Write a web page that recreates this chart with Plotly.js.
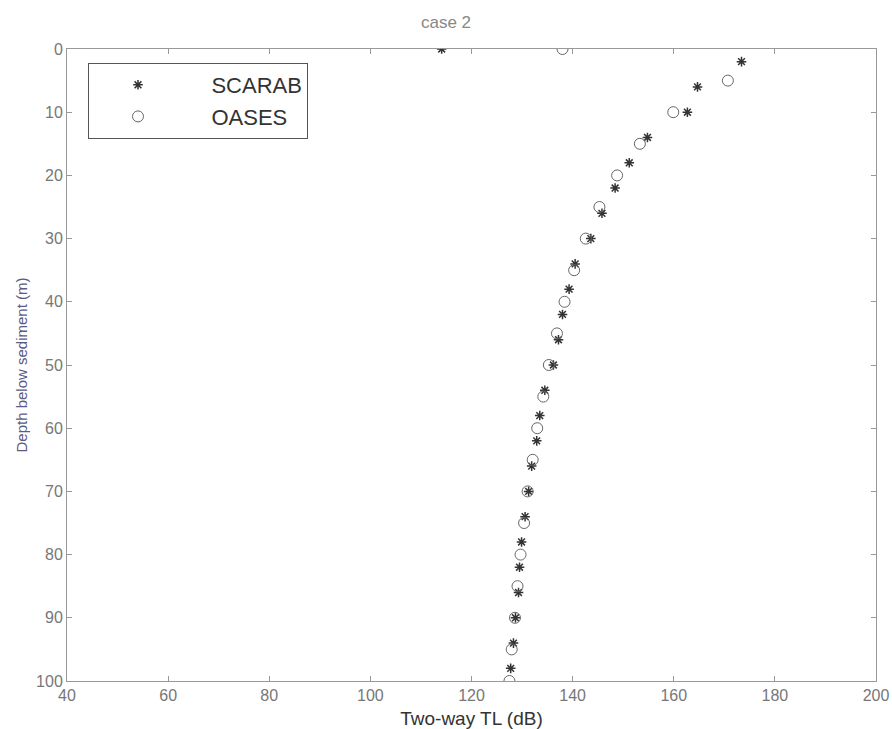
<!DOCTYPE html>
<html>
<head>
<meta charset="utf-8">
<script src="https://cdn.plot.ly/plotly-3.0.1.min.js"></script>
<style>html,body{margin:0;padding:0;background:#fff;}#chart{width:892px;height:729px;}</style>
</head>
<body>
<div id="chart"></div>
<script>
const scarabDepth = [0, 2, 6, 10, 14, 18, 22, 26, 30, 34, 38, 42, 46, 50, 54, 58, 62, 66, 70, 74, 78, 82, 86, 90, 94, 98];
const scarabTL = [114.1, 173.4, 164.7, 162.7, 154.8, 151.2, 148.4, 145.8, 143.6, 140.5, 139.3, 138.0, 137.2, 136.2, 134.5, 133.5, 132.9, 131.9, 131.3, 130.6, 129.9, 129.5, 129.3, 128.7, 128.3, 127.75];
const oasesDepth = [0, 5, 10, 15, 20, 25, 30, 35, 40, 45, 50, 55, 60, 65, 70, 75, 80, 85, 90, 95, 100];
const oasesTL = [138.0, 170.7, 159.9, 153.3, 148.8, 145.3, 142.6, 140.3, 138.4, 136.9, 135.3, 134.2, 133.0, 132.1, 131.1, 130.4, 129.7, 129.1, 128.6, 127.95, 127.5];
const xTicks = [40, 60, 80, 100, 120, 140, 160, 180, 200];
const yTicks = [0, 10, 20, 30, 40, 50, 60, 70, 80, 90, 100];
const seriesNames = ['SCARAB', 'OASES'];

const FONT = 'Liberation Sans, Arial, Helvetica, sans-serif';
const PAD = '\u00a0\u00a0\u00a0\u00a0';

const traces = [
  {
    x: scarabTL, y: scarabDepth, name: PAD + seriesNames[0], type: 'scatter', mode: 'markers',
    marker: {symbol: 'asterisk-open', size: 8, color: '#333', line: {color: '#333', width: 1.5}}
  },
  {
    x: oasesTL, y: oasesDepth, name: PAD + seriesNames[1], type: 'scatter', mode: 'markers',
    marker: {symbol: 'circle-open', size: 11, color: '#666', line: {color: '#666', width: 1}}
  }
];

const axisCommon = {
  showline: true, linecolor: '#999', linewidth: 1, mirror: 'ticks',
  ticks: 'inside', ticklen: 5, tickcolor: '#999', showgrid: false, zeroline: false,
  tickfont: {family: FONT, size: 16, color: '#777'}
};

const layout = {
  width: 892, height: 729,
  margin: {l: 67, r: 16, t: 49, b: 48},
  paper_bgcolor: '#fff', plot_bgcolor: '#fff',
  title: {text: 'case 2', x: 0.5, xanchor: 'center', y: 1 - 22/729, yanchor: 'middle',
          font: {family: FONT, size: 17, color: '#888'}},
  xaxis: Object.assign({}, axisCommon, {
    range: [40, 200], tickvals: xTicks, ticktext: xTicks.map(String),
    title: {text: 'Two-way TL (dB)', standoff: 9, font: {family: FONT, size: 19, color: '#333'}}
  }),
  yaxis: Object.assign({}, axisCommon, {
    range: [100, 0], tickvals: yTicks, ticktext: yTicks.map(String),
    title: {text: 'Depth below sediment (m)', standoff: 4, font: {family: FONT, size: 15, color: '#5a5a85'}}
  }),
  showlegend: true,
  legend: {
    x: (88 - 67) / 809, y: 1 - (63 - 49) / 632, xanchor: 'left', yanchor: 'top',
    bgcolor: '#fff', bordercolor: '#555', borderwidth: 1,
    font: {family: FONT, size: 22, color: '#333'},
    itemwidth: 88, tracegroupgap: 0
  }
};

Plotly.newPlot('chart', traces, layout, {displayModeBar: false, staticPlot: true});
</script>
</body>
</html>
